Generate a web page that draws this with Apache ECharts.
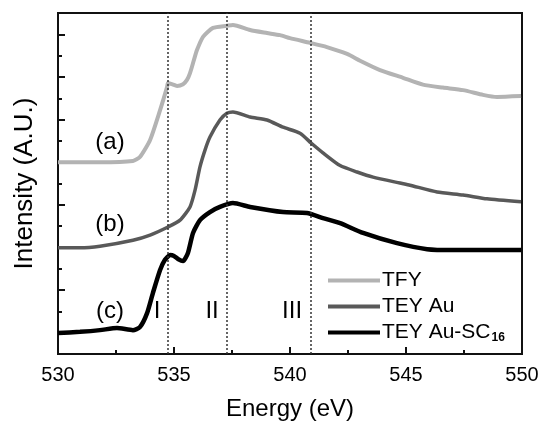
<!DOCTYPE html>
<html>
<head>
<meta charset="utf-8">
<script src="https://cdn.jsdelivr.net/npm/echarts@6/dist/echarts.min.js"></script>
<style>
html,body{margin:0;padding:0;background:#fff;}
#chart{width:543px;height:426px;}
</style>
</head>
<body>
<div id="chart"></div>
<script>
// Energy (eV) / intensity (A.U., offset curves)
const tfyE = [530, 531.81, 533.23, 533.53, 533.97, 534.40, 534.70, 534.74, 534.91, 535.13, 535.39, 535.56, 535.69, 535.86, 535.99, 536.25, 536.68, 537.28, 537.54, 538.28, 539.01, 539.57, 540.0, 540.86, 541.59, 542.46, 543.02, 543.88, 544.87, 545.73, 546.59, 547.46, 548.32, 548.92, 549.96];
const tfyI = [4.50, 4.50, 4.53, 4.62, 5.02, 5.72, 6.26, 6.36, 6.33, 6.29, 6.33, 6.43, 6.59, 6.90, 7.13, 7.44, 7.65, 7.70, 7.72, 7.60, 7.53, 7.48, 7.41, 7.30, 7.20, 7.04, 6.88, 6.66, 6.48, 6.32, 6.25, 6.19, 6.08, 6.03, 6.05];

const teyAuE = [530, 530.95, 531.81, 533.23, 533.97, 534.74, 535.26, 535.69, 535.91, 536.12, 536.34, 536.55, 536.98, 537.28, 537.54, 538.28, 539.01, 539.70, 540.43, 540.91, 541.42, 542.16, 542.89, 543.58, 544.74, 545.17, 546.34, 547.46, 548.49, 549.96];
const teyAuI = [2.49, 2.49, 2.53, 2.67, 2.79, 2.98, 3.14, 3.45, 3.85, 4.39, 4.79, 5.09, 5.49, 5.65, 5.68, 5.56, 5.49, 5.32, 5.18, 4.95, 4.72, 4.42, 4.27, 4.15, 4.01, 3.96, 3.80, 3.73, 3.64, 3.57];

const teyScE = [530, 530.95, 531.81, 532.54, 533.23, 533.53, 533.84, 534.09, 534.40, 534.61, 534.83, 535.0, 535.17, 535.39, 535.60, 535.82, 536.12, 536.55, 536.98, 537.54, 538.28, 539.70, 540.73, 541.42, 542.16, 543.15, 544.61, 545.91, 547.03, 548.49, 549.96];
const teyScI = [0.49, 0.52, 0.56, 0.61, 0.56, 0.63, 0.96, 1.43, 1.97, 2.21, 2.32, 2.30, 2.23, 2.18, 2.37, 2.84, 3.14, 3.33, 3.45, 3.54, 3.45, 3.33, 3.31, 3.19, 3.07, 2.84, 2.60, 2.46, 2.44, 2.44, 2.44];

const seriesNames = ['TFY', 'TEY Au', 'TEY Au-SC16'];
const markerEnergies = [534.75, 537.27, 540.9];
const annotTexts = ['(a)', '(b)', '(c)', 'I', 'II', 'III'];
const annotE = [532.24, 532.24, 532.24, 534.27, 536.64, 540.09];
const annotI = [4.97, 3.03, 1.01, 0.99, 0.99, 0.99];

const zip = (xs, ys) => xs.map((x, i) => [x, ys[i]]);
const FONT = 'Liberation Sans, Arial, sans-serif';

const chart = echarts.init(document.getElementById('chart'), null, {renderer: 'canvas'});
chart.setOption({
  animation: false,
  backgroundColor: '#fff',
  textStyle: {fontFamily: FONT, color: '#000'},
  grid: {left: 58, right: 21, top: 13, bottom: 72, show: true, borderColor: '#111', borderWidth: 2, backgroundColor: 'transparent'},
  legend: {
    data: seriesNames,
    orient: 'vertical',
    left: 323, top: 265,
    icon: 'rect',
    itemWidth: 52, itemHeight: 4,
    itemGap: 5,
    textStyle: {
      fontFamily: FONT, fontSize: 21, color: '#000', padding: [0, 0, 0, -3],
      rich: {
        sub: {fontFamily: FONT, fontSize: 12, fontWeight: 'bold', color: '#000', padding: [10, 0, 0, 1]}
      }
    },
    formatter: name => name === 'TEY Au-SC16' ? 'TEY Au-SC{sub|16}' : name,
    selectedMode: false
  },
  xAxis: {
    type: 'value', min: 530, max: 550, interval: 5,
    name: 'Energy (eV)', nameLocation: 'middle', nameGap: 43,
    nameTextStyle: {fontFamily: FONT, fontSize: 24, color: '#000'},
    axisLine: {show: true, lineStyle: {color: '#111', width: 2}},
    axisTick: {show: true, inside: true, length: 7, lineStyle: {color: '#111', width: 2}},
    minorTick: {show: true, splitNumber: 2, length: 4, lineStyle: {color: '#111', width: 2}},
    axisLabel: {fontFamily: FONT, fontSize: 20, color: '#000', margin: 11},
    splitLine: {show: false}
  },
  yAxis: {
    type: 'value', min: 0, max: 8, interval: 1,
    name: 'Intensity (A.U.)', nameLocation: 'middle', nameGap: 20,
    nameTextStyle: {fontFamily: FONT, fontSize: 26, color: '#000'},
    axisLine: {show: true, lineStyle: {color: '#111', width: 2}},
    axisTick: {show: true, inside: true, length: 4, lineStyle: {color: '#111', width: 2}},
    minorTick: {show: true, splitNumber: 2, length: 7, lineStyle: {color: '#111', width: 2}},
    axisLabel: {show: false},
    splitLine: {show: false}
  },
  series: [
    {name: 'TFY', type: 'line', data: zip(tfyE, tfyI), showSymbol: false, smooth: 0.2,
     lineStyle: {color: '#b3b3b3', width: 4}, itemStyle: {color: '#b3b3b3'}, z: 3},
    {name: 'TEY Au', type: 'line', data: zip(teyAuE, teyAuI), showSymbol: false, smooth: 0.2,
     lineStyle: {color: '#595959', width: 3.5}, itemStyle: {color: '#595959'}, z: 3},
    {name: 'TEY Au-SC16', type: 'line', data: zip(teyScE, teyScI), showSymbol: false, smooth: 0.2,
     lineStyle: {color: '#000', width: 4.5}, itemStyle: {color: '#000'}, z: 4},
    {name: 'annot', type: 'scatter', symbolSize: 0, silent: true, z: 5,
     itemStyle: {opacity: 1, color: '#000'},
     data: annotTexts.map((t, i) => [annotE[i], annotI[i], t]),
     label: {show: true, position: 'inside', formatter: p => p.data[2],
             fontFamily: FONT, fontSize: 24, color: '#000'},
     markLine: {silent: true, symbol: 'none', label: {show: false},
                lineStyle: {color: '#333', width: 1.5, type: [2, 2]},
                data: markerEnergies.map(e => ({xAxis: e}))}}
  ]
});
</script>
</body>
</html>
